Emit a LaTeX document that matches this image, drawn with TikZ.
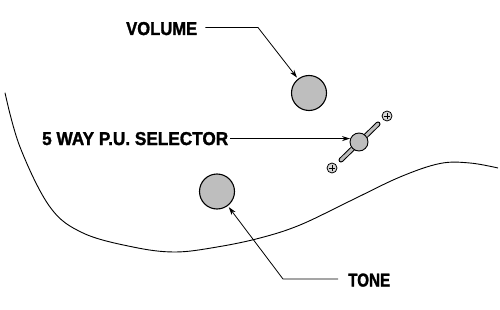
\documentclass[tikz,border=0pt]{standalone}
\usepackage{fontspec}
\usepackage{graphicx}
\newfontfamily\labelfont[BoldFeatures={FakeBold=1.6}]{Liberation Sans}
\usetikzlibrary{arrows.meta}
\definecolor{knobgray}{RGB}{190,190,190}
\newcommand{\fitlabel}[2]{\resizebox{#1pt}{13pt}{\labelfont\bfseries #2}}
\tikzset{
  lbl/.style={inner sep=0pt, anchor=base west},
  knob/.style={circle, draw=black, line width=1.1pt, fill=knobgray, minimum size=35pt, inner sep=0pt},
  smallknob/.style={circle, draw=black, line width=0.9pt, fill=knobgray, minimum size=18pt, inner sep=0pt},
  screw/.style={circle, draw=black, line width=0.8pt, fill=knobgray!60, minimum size=10pt, inner sep=0pt},
  leader/.style={draw=black, line width=0.8pt, -{Stealth[length=8pt,width=5pt]}, shorten >=1.5pt},
}
\begin{document}
\begin{tikzpicture}[x=1pt,y=-1pt]
\useasboundingbox (0,0) rectangle (500,310);
% body outline
\draw[line width=0.9pt] plot[smooth, tension=0.6] coordinates {(5,92.7) (20,147) (50,207) (83,233) (133,247) (175,252) (217,247) (260,238) (300,225) (350,201) (400,177) (440,163.5) (470,163) (498,168)};
% selector lever
\draw[line width=5pt, line cap=round] (341,160) -- (378,124);
\draw[line width=3pt, line cap=round, knobgray] (341,160) -- (378,124);
% knobs
\node[knob] (volknob) at (309,93) {};
\node[knob] (toneknob) at (217,191.5) {};
\node[smallknob] (selknob) at (359,142) {};
% screws
\node[screw] (screwA) at (387,116) {};
\node[screw] (screwB) at (332,168) {};
\foreach \s in {screwA,screwB}{
  \draw[line width=0.7pt] ([xshift=-3.3pt]\s.center) -- ([xshift=3.3pt]\s.center);
  \draw[line width=0.7pt] ([yshift=-3.3pt]\s.center) -- ([yshift=3.3pt]\s.center);
}
% labels
\node[lbl] (vol) at (126,35) {\fitlabel{71}{VOLUME}};
\node[lbl] (sel) at (42,145) {\fitlabel{186}{5 WAY P.U. SELECTOR}};
\node[lbl] (tone) at (348,286.5) {\fitlabel{42}{TONE}};
% leaders
\coordinate (volcorner) at (258,27.5);
\coordinate (tonecorner) at (283,279);
\draw[leader] ([xshift=8pt]vol.east |- volcorner) -- (volcorner) -- (volknob);
\draw[leader] ([xshift=2pt]sel.east) -- ([xshift=2pt]sel.east -| selknob.west);
\draw[leader] ([xshift=-10pt]tone.west |- tonecorner) -- (tonecorner) -- (toneknob);
\end{tikzpicture}
\end{document}
